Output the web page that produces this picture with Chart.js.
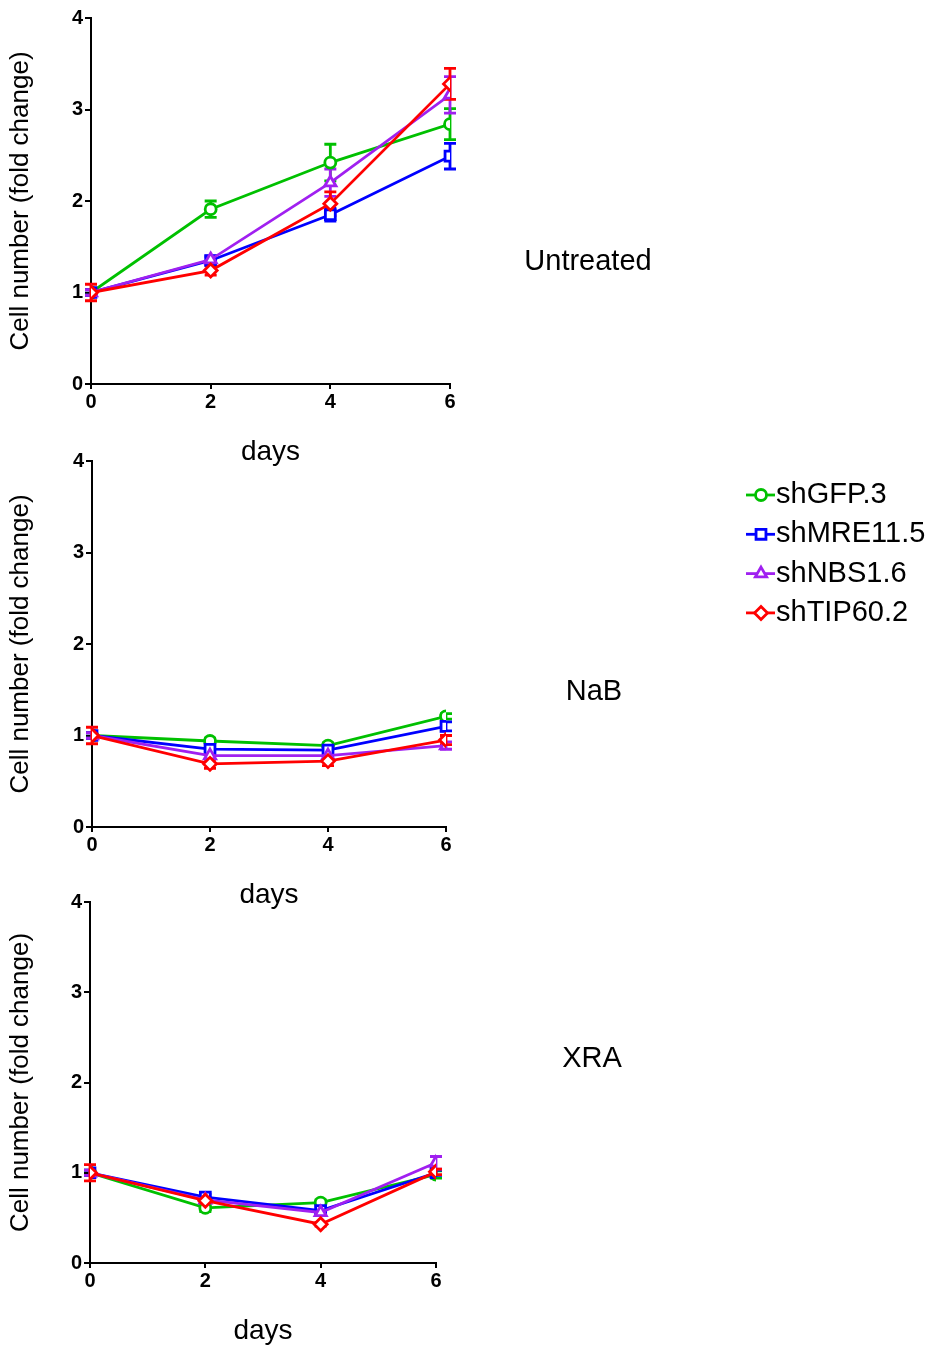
<!DOCTYPE html>
<html lang="en">
    <head>
        <meta charset="UTF-8" />
        <title>Cell number fold change</title>
        <script src="https://cdn.jsdelivr.net/npm/chart.js"></script>
        <style>
            body { margin: 0; width: 938px; height: 1354px; overflow: hidden; background: #fff; position: relative; }
            canvas { position: absolute; left: 0; }
        </style>
    </head>
    <body>
        <canvas id="untreated" width="938" height="480" style="top:0px"></canvas>
        <canvas id="nab" width="938" height="480" style="top:443px"></canvas>
        <canvas id="xra" width="938" height="475" style="top:884px"></canvas>

        <script>
            const days = [0, 2, 4, 6];
            const seriesNames = ['shGFP.3', 'shMRE11.5', 'shNBS1.6', 'shTIP60.2'];
            const yTicks = [0, 1, 2, 3, 4];

            // Untreated
            const untreatedGFP = [1.0, 1.91, 2.42, 2.84];
            const untreatedGFPErr = [0.03, 0.09, 0.2, 0.17];
            const untreatedMRE = [1.0, 1.35, 1.85, 2.49];
            const untreatedMREErr = [0.03, 0.04, 0.07, 0.14];
            const untreatedNBS = [1.0, 1.36, 2.2, 3.16];
            const untreatedNBSErr = [0.03, 0.04, 0.15, 0.2];
            const untreatedTIP = [1.0, 1.24, 1.97, 3.28];
            const untreatedTIPErr = [0.09, 0.05, 0.13, 0.17];

            // NaB
            const nabGFP = [1.0, 0.94, 0.89, 1.21];
            const nabGFPErr = [0.03, 0.03, 0.03, 0.03];
            const nabMRE = [1.0, 0.85, 0.84, 1.1];
            const nabMREErr = [0.03, 0.04, 0.03, 0.05];
            const nabNBS = [1.0, 0.78, 0.78, 0.89];
            const nabNBSErr = [0.03, 0.03, 0.03, 0.04];
            const nabTIP = [1.0, 0.69, 0.72, 0.95];
            const nabTIPErr = [0.09, 0.05, 0.05, 0.05];

            // XRA
            const xraGFP = [1.0, 0.61, 0.67, 0.98];
            const xraGFPErr = [0.03, 0.04, 0.03, 0.04];
            const xraMRE = [1.0, 0.73, 0.58, 1.0];
            const xraMREErr = [0.03, 0.03, 0.04, 0.03];
            const xraNBS = [1.0, 0.7, 0.56, 1.11];
            const xraNBSErr = [0.03, 0.03, 0.03, 0.07];
            const xraTIP = [1.0, 0.69, 0.43, 1.01];
            const xraTIPErr = [0.09, 0.03, 0.02, 0.03];

            const colors = ['#00c000', '#0000ff', '#a020f0', '#ff0000'];
            const pointStyles = ['circle', 'rect', 'triangle', 'rectRot'];
            const pointSizes = [5.5, 7, 6.5, 6.5];
            const FONT = "'Liberation Sans', Arial, sans-serif";
            const LW = 2.8;

            // vertical error bars with caps, drawn under the lines and markers
            const errorBars = {
                id: 'errorBars',
                beforeDatasetsDraw(chart) {
                    const { ctx, scales } = chart;
                    chart.data.datasets.forEach((ds) => {
                        ctx.save();
                        ctx.strokeStyle = ds.borderColor;
                        ctx.lineWidth = LW;
                        ds.values.forEach((v, j) => {
                            const x = scales.x.getPixelForValue(days[j]);
                            const top = scales.y.getPixelForValue(v + ds.errors[j]);
                            const bot = scales.y.getPixelForValue(v - ds.errors[j]);
                            ctx.beginPath();
                            ctx.moveTo(x, top);
                            ctx.lineTo(x, bot);
                            ctx.moveTo(x - 6, top);
                            ctx.lineTo(x + 6, top);
                            ctx.moveTo(x - 6, bot);
                            ctx.lineTo(x + 6, bot);
                            ctx.stroke();
                        });
                        ctx.restore();
                    });
                },
            };

            const panelLabel = {
                id: 'panelLabel',
                afterDraw(chart, args, opts) {
                    const ctx = chart.ctx;
                    ctx.save();
                    ctx.font = '29px ' + FONT;
                    ctx.fillStyle = '#000';
                    ctx.textAlign = 'center';
                    ctx.textBaseline = 'middle';
                    ctx.fillText(opts.text, opts.x, opts.y);
                    ctx.restore();
                },
            };

            const sideLegend = {
                id: 'sideLegend',
                afterDraw(chart, args, opts) {
                    if (!opts.show) return;
                    const ctx = chart.ctx;
                    chart.data.datasets.forEach((ds, i) => {
                        const y = opts.y + i * 39.3;
                        ctx.save();
                        ctx.strokeStyle = ds.borderColor;
                        ctx.lineWidth = LW;
                        ctx.beginPath();
                        ctx.moveTo(opts.x, y);
                        ctx.lineTo(opts.x + 29, y);
                        ctx.stroke();
                        ctx.fillStyle = '#fff';
                        Chart.helpers.drawPoint(ctx, {
                            pointStyle: ds.pointStyle,
                            radius: ds.pointRadius,
                            borderWidth: LW,
                            rotation: 0,
                        }, opts.x + 15, y);
                        ctx.font = '29px ' + FONT;
                        ctx.fillStyle = '#000';
                        ctx.textAlign = 'left';
                        ctx.textBaseline = 'middle';
                        ctx.fillText(ds.label, opts.x + 30, y);
                        ctx.restore();
                    });
                },
            };

            function makePanel(id, values, errors, geo) {
                const datasets = values.map((vals, i) => ({
                    label: seriesNames[i],
                    data: vals.map((v, j) => ({ x: days[j], y: v })),
                    values: vals,
                    errors: errors[i],
                    borderColor: colors[i],
                    backgroundColor: '#fff',
                    pointBackgroundColor: '#fff',
                    pointBorderColor: colors[i],
                    pointStyle: pointStyles[i],
                    pointRadius: pointSizes[i],
                    pointBorderWidth: LW,
                    borderWidth: LW,
                    tension: 0,
                    order: 3 - i,
                }));

                new Chart(document.getElementById(id), {
                    type: 'line',
                    data: { datasets },
                    plugins: [errorBars, panelLabel, sideLegend],
                    options: {
                        responsive: false,
                        animation: false,
                        devicePixelRatio: 1,
                        layout: { padding: { left: 0, top: 18, right: geo.right, bottom: 0 } },
                        plugins: {
                            legend: { display: false },
                            tooltip: { enabled: false },
                            panelLabel: { text: geo.label, x: geo.labelX, y: geo.labelY },
                            sideLegend: { show: !!geo.legend, x: 746, y: 52 },
                        },
                        scales: {
                            x: {
                                type: 'linear',
                                min: 0,
                                max: 6,
                                afterFit: (s) => { s.height = 96; },
                                afterBuildTicks: (s) => { s.ticks = days.map((d) => ({ value: d })); },
                                ticks: { color: '#000', font: { family: FONT, size: 20, weight: 'bold' }, padding: 1 },
                                grid: { display: true, drawOnChartArea: false, drawTicks: true, tickLength: 5, color: '#000', lineWidth: 2 },
                                border: { display: true, color: '#000', width: 2 },
                                title: { display: true, text: 'days', color: '#000', font: { family: FONT, size: 28 }, padding: { top: 0, bottom: 11 } },
                            },
                            y: {
                                min: 0,
                                max: 4,
                                afterFit: (s) => { s.width = geo.yw; },
                                afterBuildTicks: (s) => { s.ticks = yTicks.map((t) => ({ value: t })); },
                                ticks: { color: '#000', font: { family: FONT, size: 20, weight: 'bold' }, padding: 2 },
                                grid: { display: true, drawOnChartArea: false, drawTicks: true, tickLength: 6, color: '#000', lineWidth: 2 },
                                border: { display: true, color: '#000', width: 2 },
                                title: { display: true, text: 'Cell number (fold change)', color: '#000', font: { family: FONT, size: 26 }, padding: { top: 5, bottom: 0 } },
                            },
                        },
                    },
                });
            }

            makePanel('untreated',
                [untreatedGFP, untreatedMRE, untreatedNBS, untreatedTIP],
                [untreatedGFPErr, untreatedMREErr, untreatedNBSErr, untreatedTIPErr],
                { yw: 91, right: 488, label: 'Untreated', labelX: 588, labelY: 262 });
            makePanel('nab',
                [nabGFP, nabMRE, nabNBS, nabTIP],
                [nabGFPErr, nabMREErr, nabNBSErr, nabTIPErr],
                { yw: 92, right: 492, label: 'NaB', labelX: 594, labelY: 249, legend: true });
            makePanel('xra',
                [xraGFP, xraMRE, xraNBS, xraTIP],
                [xraGFPErr, xraMREErr, xraNBSErr, xraTIPErr],
                { yw: 90, right: 502, label: 'XRA', labelX: 592, labelY: 175 });
        </script>
    </body>
</html>
